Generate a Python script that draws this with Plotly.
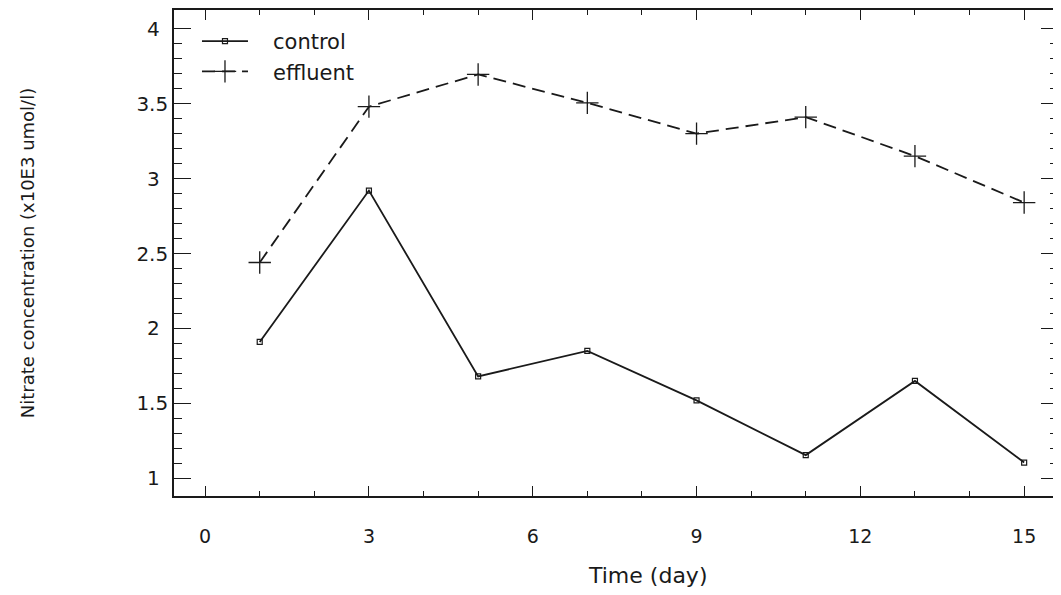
import numpy as np
import plotly.graph_objects as go

days = [1, 3, 5, 7, 9, 11, 13, 15]
control = [1.91, 2.92, 1.68, 1.85, 1.52, 1.155, 1.65, 1.105]
effluent = [2.44, 3.48, 3.695, 3.505, 3.30, 3.41, 3.15, 2.84]
x_ticks = [0, 3, 6, 9, 12, 15]
y_ticks = [1, 1.5, 2, 2.5, 3, 3.5, 4]
y_tick_labels = ["1", "1.5", "2", "2.5", "3", "3.5", "4"]
x_title = "Time (day)"
y_title = "Nitrate concentration (x10E3 umol/l)"

INK = "#1a1a1a"
FONT = "DejaVu Sans, Liberation Sans, Arial, sans-serif"
NBSP = "\u00a0"

# pad short labels so that they look centred like in the original
y_tick_text = [t if "." in t else t + "\u2008\u200a" for t in y_tick_labels]

fig = go.Figure()
fig.add_trace(go.Scatter(
    x=days, y=control, name=NBSP * 3 + "control", mode="lines+markers",
    line=dict(color=INK, width=1.8),
    marker=dict(symbol="square-open", size=5, color=INK, line=dict(width=1.2, color=INK)),
))
fig.add_trace(go.Scatter(
    x=days, y=effluent, name=NBSP * 3 + "effluent", mode="lines+markers",
    line=dict(color=INK, width=1.8, dash="13px,7px"),
    marker=dict(symbol="cross-thin", size=16, color=INK, line=dict(width=1.3, color=INK)),
))

# page body has an 8px margin, so the figure is 8px smaller and offset
fig.update_layout(
    width=1053, height=587,
    margin=dict(l=166, r=3, t=2, b=99, autoexpand=False),
    paper_bgcolor="white", plot_bgcolor="white",
    font=dict(family=FONT, size=18, color=INK),
    showlegend=True,
    legend=dict(
        x=0.026, y=0.9775, xanchor="left", yanchor="top",
        bgcolor="rgba(0,0,0,0)", borderwidth=0,
        font=dict(size=21, color=INK), itemwidth=46,
        tracegroupgap=0,
    ),
    annotations=[dict(
        text=x_title, xref="paper", yref="paper", x=0.536, y=-0.1646,
        xanchor="center", yanchor="middle", showarrow=False,
        font=dict(size=22, color=INK),
    )],
)

fig.update_xaxes(
    range=[-0.57, 15.62],
    tickmode="array", tickvals=x_ticks, ticktext=[str(v) for v in x_ticks],
    ticks="inside", ticklen=10, tickwidth=1.4, tickcolor=INK,
    minor=dict(tickmode="array", tickvals=list(np.arange(0, 16, 1)), ticks="inside",
               ticklen=5, tickwidth=1.3, tickcolor=INK),
    showline=True, linecolor=INK, linewidth=1.6, mirror="ticks",
    showgrid=False, zeroline=False, automargin=False,
    ticklabelstandoff=22,
    tickfont=dict(size=19, color=INK),
)
fig.update_yaxes(
    range=[0.882, 4.125],
    tickmode="array", tickvals=y_ticks, ticktext=y_tick_text,
    ticks="inside", ticklen=17, tickwidth=1.4, tickcolor=INK,
    minor=dict(tickmode="array", tickvals=list(np.round(np.arange(1.0, 4.05, 0.1), 2)),
               ticks="inside", ticklen=8, tickwidth=1.3, tickcolor=INK),
    showline=True, linecolor=INK, linewidth=1.6, mirror="ticks",
    showgrid=False, zeroline=False, automargin=False,
    ticklabelstandoff=0,
    tickfont=dict(size=20, color=INK),
    title=dict(text=y_title, font=dict(size=18, color=INK), standoff=97),
)

fig.write_html("out.html")
